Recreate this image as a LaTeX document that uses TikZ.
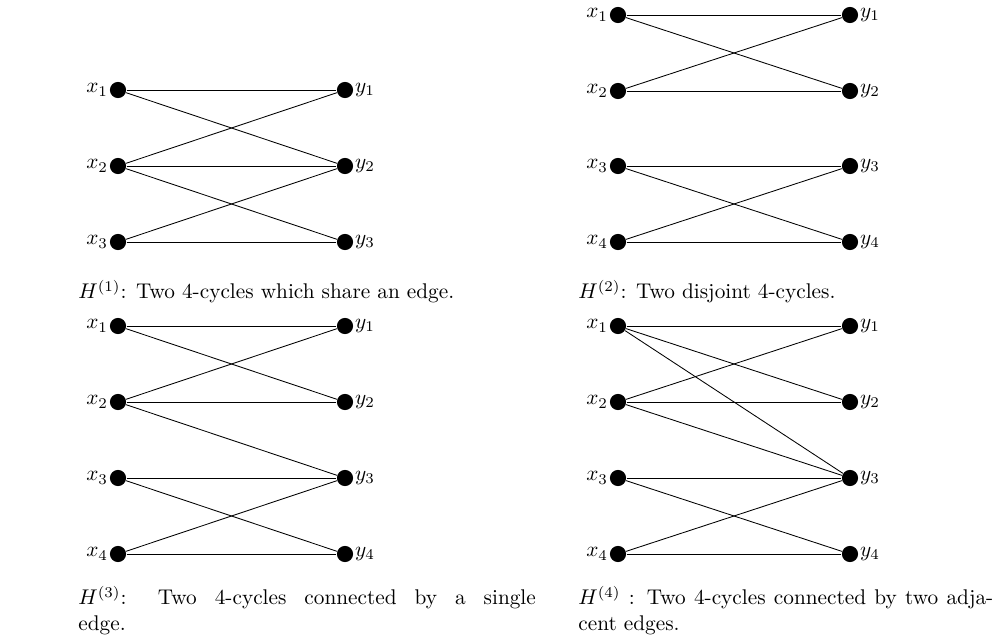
\documentclass[tikz,border=0pt]{standalone}
\usepackage{tikz}
\usetikzlibrary{positioning}

\begin{document}
\begin{tikzpicture}[x=0.47pt, y=-0.47pt, vertex/.style={circle, fill=black, inner sep=0pt, minimum size=7.6pt}, every label/.style={inner sep=1pt}, label distance=-0.5pt, caption/.style={anchor=base west, inner sep=0pt, text width=#1, align=justify}]
\useasboundingbox (0,0) rectangle (999,643);
% H1
\foreach \i/\y in {1/90,2/166,3/242} {
  \node[vertex, label=left:$x_{\i}$] (ax\i) at (118,\y) {};
  \node[vertex, label=right:$y_{\i}$] (ay\i) at (345,\y) {};
}
\foreach \s/\t in {1/1,1/2,2/1,2/2,2/3,3/2,3/3} \draw (ax\s) -- (ay\t);
\node[caption=215pt] (capa) at (78,299) {$H^{(1)}$: Two 4-cycles which share an edge.};
% H2
\foreach \i/\y in {1/15,2/91,3/166,4/242} {
  \node[vertex, label=left:$x_{\i}$] (bx\i) at (618,\y) {};
  \node[vertex, label=right:$y_{\i}$] (by\i) at (850,\y) {};
}
\foreach \s/\t in {1/1,1/2,2/1,2/2,3/3,3/4,4/3,4/4} \draw (bx\s) -- (by\t);
\node[caption=195pt] (capb) at (578,299) {$H^{(2)}$: Two disjoint 4-cycles.};
% H3
\foreach \i/\y in {1/326,2/402,3/478,4/554} {
  \node[vertex, label=left:$x_{\i}$] (cx\i) at (118,\y) {};
  \node[vertex, label=right:$y_{\i}$] (cy\i) at (345,\y) {};
}
\foreach \s/\t in {1/1,1/2,2/1,2/2,2/3,3/3,3/4,4/3,4/4} \draw (cx\s) -- (cy\t);
\node[caption=215pt] (capc) at (78,605) {$H^{(3)}$: Two 4-cycles connected by a single\linebreak edge.};
% H4
\foreach \i/\y in {1/326,2/402,3/478,4/554} {
  \node[vertex, label=left:$x_{\i}$] (dx\i) at (618,\y) {};
  \node[vertex, label=right:$y_{\i}$] (dy\i) at (850,\y) {};
}
\foreach \s/\t in {1/1,1/2,1/3,2/1,2/2,2/3,3/3,3/4,4/3,4/4} \draw (dx\s) -- (dy\t);
\node[caption=195pt] (capd) at (578,605) {$H^{(4)}$ : Two 4-cycles connected by two adja\-cent edges.};
\end{tikzpicture}
\end{document}
